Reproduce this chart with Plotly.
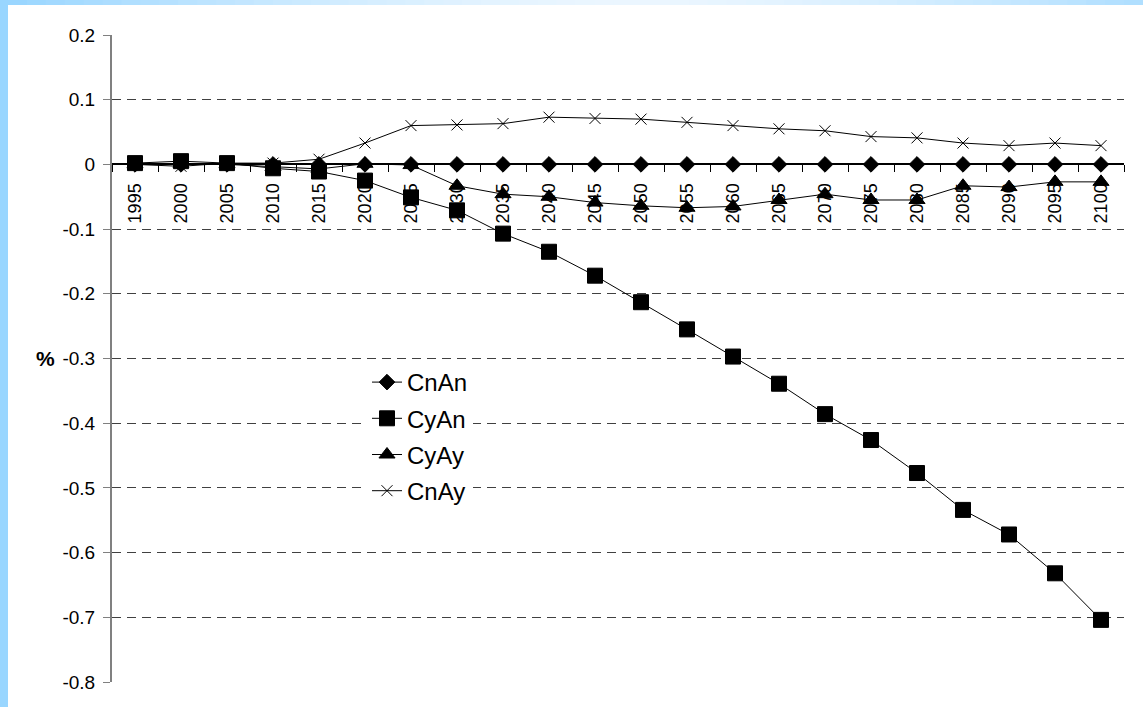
import plotly.graph_objects as go

years = [str(y) for y in range(1995, 2101, 5)]

cnan = [0.0] * 22
cyan = [0.002, 0.005, 0.002, -0.006, -0.011, -0.025, -0.051, -0.071, -0.107, -0.135,
        -0.172, -0.213, -0.255, -0.297, -0.339, -0.386, -0.426, -0.477, -0.534, -0.572,
        -0.632, -0.704]
cyay = [0.0, 0.001, 0.0, -0.004, -0.007, 0.001, -0.001, -0.033, -0.046, -0.050,
        -0.059, -0.064, -0.067, -0.065, -0.055, -0.046, -0.055, -0.055, -0.033, -0.035,
        -0.027, -0.027]
cnay = [0.0, -0.003, 0.002, 0.002, 0.008, 0.033, 0.060, 0.061, 0.063, 0.073,
        0.071, 0.070, 0.065, 0.060, 0.055, 0.052, 0.043, 0.041, 0.033, 0.029,
        0.033, 0.029]

series_names = ["CnAn", "CyAn", "CyAy", "CnAy"]
series_values = [cnan, cyan, cyay, cnay]
series_symbols = ["diamond", "square", "triangle-up", "x-thin-open"]
series_sizes = [12, 15, 14, 11]

ytick_vals = [0.2, 0.1, 0.0, -0.1, -0.2, -0.3, -0.4, -0.5, -0.6, -0.7, -0.8]
ytick_text = ["0.2", "0.1", "0", "-0.1", "-0.2", "-0.3", "-0.4", "-0.5", "-0.6", "-0.7", "-0.8"]

W, H = 1143, 707
ML, MR, MT, MB = 112, 19, 35, 25
PW, PH = W - ML - MR, H - MT - MB


def px_x(p):
    return (p - ML) / PW


def px_y(p):
    return (H - MB - p) / PH


fig = go.Figure()
for name, vals, sym, sz in zip(series_names, series_values, series_symbols, series_sizes):
    fig.add_trace(go.Scatter(
        x=years, y=vals, name=name, mode="lines+markers", legendgroup=name,
        line=dict(color="black", width=1),
        marker=dict(symbol=sym, size=sz, color="black",
                    line=dict(color="black", width=1)),
    ))

shapes = []
# left blue strip
shapes.append(dict(type="rect", xref="paper", yref="paper",
                   x0=px_x(0), x1=px_x(8), y0=px_y(H), y1=px_y(0),
                   fillcolor="#99D6FF", line=dict(width=0), layer="below"))
# top gradient strip
n = 60
c_edge = (153, 214, 255)
c_mid = (236, 247, 255)
for i in range(n):
    x0 = 8 + (W - 8) * i / n
    x1 = 8 + (W - 8) * (i + 1) / n
    t = (i + 0.5) / n
    d = abs(t - 0.55) / 0.55
    d = min(1.0, d) ** 1.5
    col = tuple(int(c_mid[k] + (c_edge[k] - c_mid[k]) * d) for k in range(3))
    shapes.append(dict(type="rect", xref="paper", yref="paper",
                       x0=px_x(x0), x1=px_x(x1) + 0.001, y0=px_y(5), y1=px_y(0),
                       fillcolor="rgb(%d,%d,%d)" % col, line=dict(width=0), layer="below"))

fig.update_layout(
    width=W, height=H,
    margin=dict(l=ML, r=MR, t=MT, b=MB, pad=0),
    paper_bgcolor="white", plot_bgcolor="white",
    font=dict(family="Liberation Sans, Arial, sans-serif", color="black", size=18),
    showlegend=True,
    legend=dict(x=px_x(367), y=px_y(360), xanchor="left", yanchor="top",
                bgcolor="white", borderwidth=0, tracegroupgap=2,
                traceorder="grouped",
                font=dict(size=24, family="Liberation Sans, Arial, sans-serif")),
    shapes=shapes,
    annotations=[dict(text="<b>%</b>", xref="paper", yref="paper",
                      x=px_x(45), y=0.5, xanchor="center", yanchor="middle",
                      showarrow=False,
                      font=dict(size=21, family="Liberation Sans, Arial, sans-serif"))],
)

fig.update_xaxes(
    type="category", categoryorder="array", categoryarray=years,
    anchor="free", position=0.8,
    showline=True, linecolor="black", linewidth=1.5,
    ticks="outside", ticklen=7, tickcolor="black", tickwidth=1,
    tickson="boundaries", tickangle=-90, ticklabelstandoff=11,
    tickfont=dict(size=18),
    showgrid=False, zeroline=False,
    layer="below traces",
    range=[-0.5, 21.5], fixedrange=True,
)
fig.update_yaxes(
    range=[-0.8, 0.2],
    tickvals=ytick_vals, ticktext=ytick_text,
    showline=True, linecolor="#808080", linewidth=2,
    ticks="outside", ticklen=7, tickcolor="#808080", tickwidth=1,
    ticklabelstandoff=4,
    showgrid=True, gridcolor="#404040", gridwidth=1, griddash="9px,6px",
    zeroline=False, tickfont=dict(size=19),
    layer="below traces",
)

fig.write_html("out.html", config={"displayModeBar": False},
               post_script="document.body.style.margin='0';")
